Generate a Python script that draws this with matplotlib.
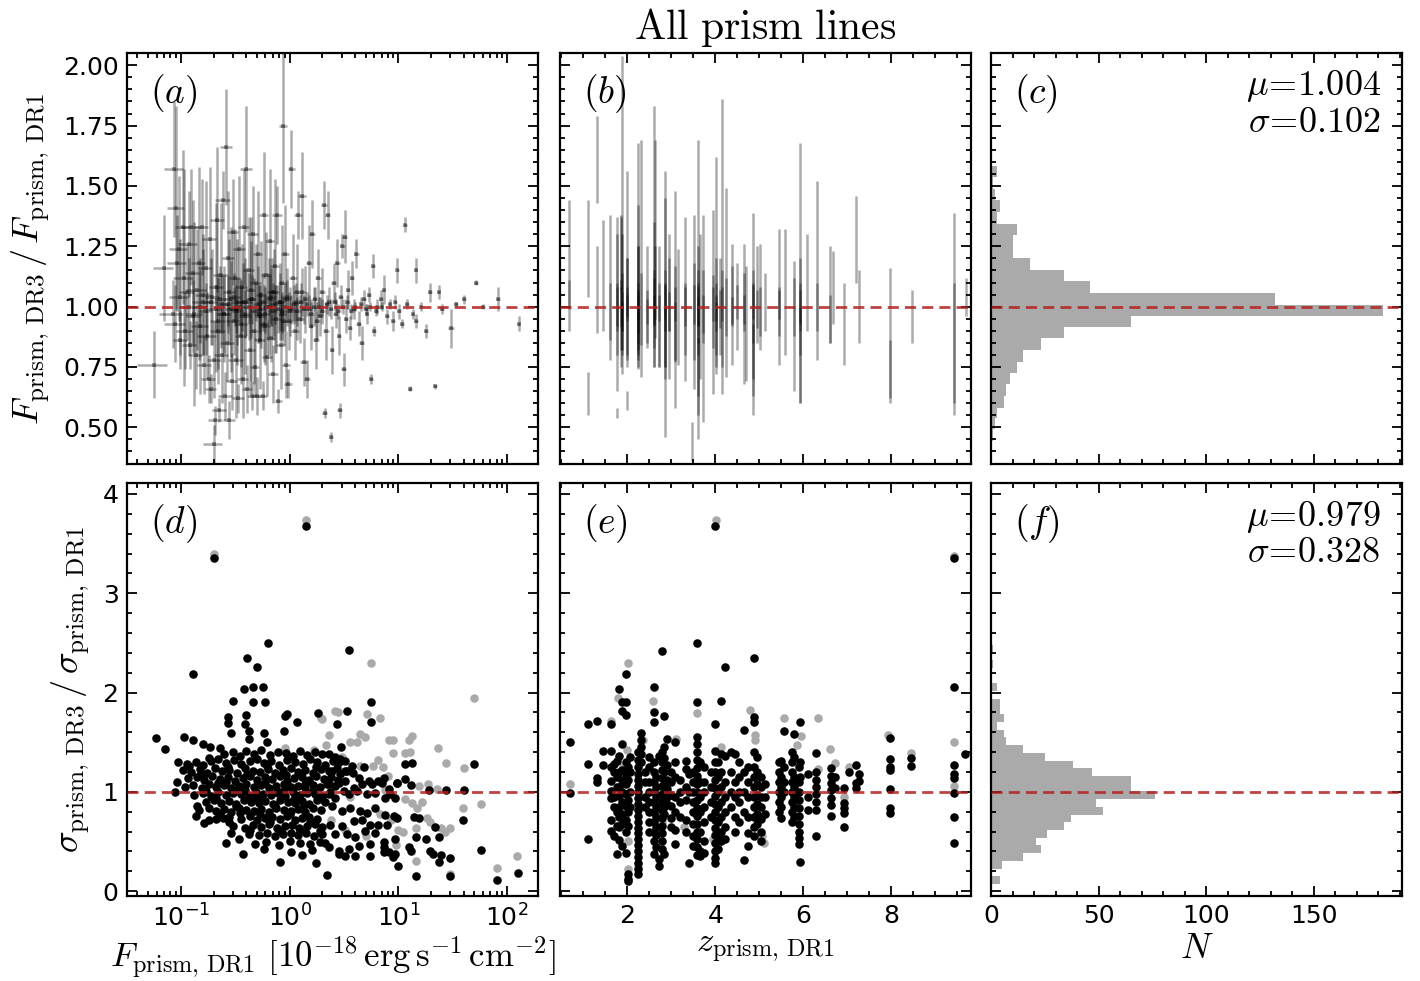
#!/usr/bin/env python3
import numpy as np
import matplotlib
matplotlib.use('Agg')
import matplotlib.pyplot as plt
from matplotlib.ticker import MultipleLocator, LogLocator, NullFormatter

# ---- panel (a): F_DR3/F_DR1 vs F_DR1 ----
flux_a = [0.057, 0.070, 0.084, 0.087, 0.089, 0.091, 0.093, 0.096, 0.098, 0.099,
          0.104, 0.107, 0.110, 0.114, 0.118, 0.121, 0.125, 0.129, 0.133, 0.137,
          0.141, 0.146, 0.150, 0.155, 0.160, 0.165, 0.170, 0.175, 0.180, 0.185,
          0.190, 0.195, 0.200, 0.204, 0.208, 0.212, 0.216, 0.220, 0.226, 0.232,
          0.238, 0.244, 0.250, 0.256, 0.262, 0.268, 0.274, 0.280, 0.287, 0.294,
          0.300, 0.307, 0.314, 0.322, 0.330, 0.338, 0.346, 0.355, 0.364, 0.373,
          0.382, 0.392, 0.400, 0.410, 0.420, 0.430, 0.440, 0.450, 0.460, 0.470,
          0.480, 0.490, 0.500, 0.510, 0.520, 0.535, 0.550, 0.565, 0.580, 0.595,
          0.610, 0.625, 0.640, 0.655, 0.670, 0.690, 0.710, 0.730, 0.750, 0.770,
          0.790, 0.810, 0.830, 0.850, 0.870, 0.890, 0.910, 0.930, 0.950, 0.970,
          1.00, 1.04, 1.08, 1.12, 1.16, 1.20, 1.25, 1.30, 1.35, 1.40,
          1.45, 1.50, 1.56, 1.62, 1.68, 1.75, 1.82, 1.90, 1.98, 2.06,
          2.10, 2.15, 2.25, 2.30, 2.40, 2.45, 2.55, 2.65, 2.75, 2.85,
          2.90, 2.95, 3.05, 3.15, 3.20, 3.30, 3.45, 3.60, 3.75, 3.90,
          4.10, 4.30, 4.60, 4.80, 5.10, 5.40, 5.60, 5.80, 6.00, 6.40,
          6.90, 7.30, 7.80, 8.30, 8.90, 9.40, 9.80, 10.2, 10.8, 11.5,
          12.0, 12.8, 13.5, 14.4, 14.6, 16.0, 18.0, 19.4, 21.8, 23.4,
          25.0, 30.6, 34.0, 40.0, 52.0, 60.0, 82.0, 127.0, 0.12, 0.13,
          0.15, 0.17, 0.19, 0.21, 0.23, 0.25, 0.27, 0.29, 0.31, 0.33,
          0.35, 0.37, 0.39, 0.42, 0.45, 0.48, 0.51, 0.54, 0.57, 0.60,
          0.63, 0.66, 0.70, 0.74, 0.78, 0.82, 0.86, 0.90, 0.95, 1.02,
          1.10, 1.18, 1.27, 1.36, 1.46, 1.58, 1.70, 1.85, 2.00, 2.20,
          2.40, 2.60, 2.80, 3.10, 3.40, 3.70, 4.00, 4.50, 5.00, 5.50,
          6.20, 7.00, 0.16, 0.22, 0.28, 0.36, 0.44, 0.58, 0.72, 0.98,
          1.30, 1.80, 0.24, 0.32, 0.40, 0.53, 0.68, 0.85, 1.15, 1.50]
ratio_a = [0.76, 1.16, 0.97, 1.57, 0.93, 1.41, 1.18, 1.24, 1.04, 0.86,
           1.33, 1.12, 0.90, 1.06, 1.26, 0.84, 1.33, 1.14, 0.97, 0.80,
           1.07, 1.18, 0.92, 1.33, 1.02, 0.76, 1.16, 0.88, 0.70, 1.28,
           0.66, 1.04, 0.43, 0.78, 0.53, 1.08, 1.36, 0.90, 0.57, 1.13,
           0.80, 1.44, 0.97, 0.63, 1.66, 0.85, 1.20, 0.53, 1.03, 0.69,
           1.31, 0.94, 1.12, 0.78, 1.02, 0.62, 1.24, 0.88, 1.08, 0.70,
           1.33, 0.96, 1.57, 0.66, 1.15, 0.82, 1.03, 0.63, 1.30, 0.90,
           0.75, 1.10, 0.63, 1.22, 0.97, 0.86, 1.05, 0.63, 1.38, 0.92,
           1.13, 0.79, 1.00, 1.27, 0.87, 1.06, 0.72, 1.17, 0.95, 1.38,
           0.61, 1.02, 0.84, 1.10, 1.75, 0.94, 1.22, 0.76, 1.04, 0.68,
           0.98, 1.57, 1.12, 0.90, 1.06, 1.38, 0.95, 1.46, 0.77, 1.03,
           0.70, 1.18, 0.92, 1.30, 1.00, 0.86, 1.12, 0.96, 1.06, 1.42,
           0.56, 0.90, 1.38, 1.02, 0.46, 0.82, 1.10, 0.97, 1.18, 0.88,
           0.57, 1.04, 1.25, 0.74, 1.29, 0.95, 1.07, 0.91, 1.12, 0.99,
           1.22, 0.93, 0.85, 1.03, 0.97, 1.05, 0.70, 1.17, 0.90, 1.00,
           1.03, 1.07, 0.96, 1.01, 0.94, 1.02, 1.15, 0.98, 0.93, 1.34,
           1.01, 0.66, 0.97, 1.15, 0.94, 1.00, 0.90, 1.06, 0.67, 1.06,
           0.99, 0.91, 1.01, 1.03, 1.10, 1.00, 1.03, 0.93, 1.00, 0.96,
           1.00, 0.98, 1.02, 0.99, 1.03, 0.97, 1.01, 0.99, 1.04, 0.98,
           1.00, 1.02, 0.97, 1.00, 1.03, 0.98, 1.01, 0.99, 1.02, 0.97,
           1.00, 1.03, 0.98, 1.01, 0.99, 1.02, 0.98, 1.00, 1.03, 0.99,
           1.01, 0.98, 1.02, 0.99, 1.01, 0.97, 1.03, 1.00, 0.98, 1.01,
           0.99, 1.02, 0.98, 1.00, 1.02, 0.98, 1.00, 1.01, 0.99, 1.00,
           0.98, 1.00, 1.05, 0.94, 1.06, 0.93, 1.07, 0.93, 1.06, 0.94,
           1.06, 0.94, 1.01, 0.99, 1.02, 0.96, 1.04, 0.97, 1.02, 0.99]
ratio_err_a = [0.14, 0.22, 0.14, 0.28, 0.16, 0.42, 0.20, 0.30, 0.24, 0.12,
               0.32, 0.45, 0.16, 0.20, 0.22, 0.10, 0.24, 0.30, 0.38, 0.14,
               0.25, 0.40, 0.28, 0.20, 0.22, 0.12, 0.36, 0.18, 0.10, 0.30,
               0.06, 0.20, 0.08, 0.16, 0.06, 0.35, 0.30, 0.22, 0.05, 0.30,
               0.20, 0.12, 0.20, 0.10, 0.24, 0.16, 0.28, 0.08, 0.30, 0.12,
               0.22, 0.14, 0.20, 0.24, 0.26, 0.06, 0.30, 0.20, 0.18, 0.16,
               0.24, 0.24, 0.26, 0.10, 0.22, 0.18, 0.34, 0.06, 0.20, 0.22,
               0.12, 0.16, 0.08, 0.26, 0.12, 0.20, 0.22, 0.06, 0.26, 0.16,
               0.18, 0.16, 0.20, 0.30, 0.10, 0.14, 0.12, 0.36, 0.14, 0.12,
               0.05, 0.16, 0.18, 0.24, 0.32, 0.10, 0.20, 0.14, 0.12, 0.06,
               0.10, 0.16, 0.18, 0.12, 0.20, 0.10, 0.10, 0.18, 0.10, 0.14,
               0.08, 0.16, 0.10, 0.14, 0.08, 0.12, 0.12, 0.08, 0.10, 0.10,
               0.02, 0.12, 0.10, 0.06, 0.02, 0.10, 0.08, 0.06, 0.10, 0.08,
               0.03, 0.05, 0.05, 0.07, 0.11, 0.06, 0.08, 0.05, 0.07, 0.04,
               0.06, 0.05, 0.07, 0.04, 0.04, 0.03, 0.02, 0.05, 0.02, 0.03,
               0.04, 0.06, 0.03, 0.02, 0.04, 0.03, 0.05, 0.03, 0.02, 0.03,
               0.02, 0.01, 0.02, 0.05, 0.03, 0.02, 0.03, 0.04, 0.01, 0.03,
               0.02, 0.08, 0.01, 0.02, 0.01, 0.01, 0.05, 0.03, 0.20, 0.15,
               0.15, 0.12, 0.18, 0.10, 0.14, 0.16, 0.12, 0.20, 0.10, 0.14,
               0.12, 0.16, 0.10, 0.14, 0.10, 0.12, 0.16, 0.10, 0.12, 0.08,
               0.14, 0.10, 0.12, 0.08, 0.10, 0.12, 0.08, 0.10, 0.08, 0.06,
               0.08, 0.06, 0.08, 0.06, 0.05, 0.06, 0.05, 0.04, 0.05, 0.04,
               0.04, 0.04, 0.03, 0.03, 0.03, 0.03, 0.02, 0.03, 0.02, 0.02,
               0.02, 0.02, 0.25, 0.20, 0.22, 0.18, 0.20, 0.16, 0.18, 0.12,
               0.10, 0.08, 0.12, 0.10, 0.14, 0.10, 0.12, 0.08, 0.08, 0.06]
flux_relerr_a = [0.30, 0.20, 0.25, 0.20, 0.22, 0.18, 0.20, 0.18, 0.20, 0.15,
                 0.15, 0.20, 0.18, 0.15, 0.20, 0.15, 0.20, 0.15, 0.18, 0.15,
                 0.20, 0.15, 0.18, 0.15, 0.20, 0.15, 0.15, 0.20, 0.15, 0.15,
                 0.12, 0.15, 0.20, 0.15, 0.15, 0.15, 0.15, 0.15, 0.15, 0.15,
                 0.15, 0.15, 0.15, 0.15, 0.12, 0.15, 0.12, 0.12, 0.15, 0.12,
                 0.12, 0.15, 0.12, 0.15, 0.12, 0.12, 0.12, 0.12, 0.12, 0.12,
                 0.12, 0.12, 0.12, 0.10, 0.12, 0.12, 0.10, 0.10, 0.12, 0.10,
                 0.10, 0.12, 0.10, 0.10, 0.10, 0.10, 0.10, 0.10, 0.10, 0.10,
                 0.10, 0.10, 0.10, 0.10, 0.10, 0.10, 0.10, 0.10, 0.10, 0.10,
                 0.08, 0.08, 0.10, 0.08, 0.08, 0.08, 0.08, 0.08, 0.08, 0.08,
                 0.08, 0.08, 0.08, 0.08, 0.08, 0.08, 0.08, 0.08, 0.08, 0.06,
                 0.06, 0.06, 0.06, 0.06, 0.06, 0.06, 0.06, 0.06, 0.06, 0.06,
                 0.05, 0.06, 0.05, 0.05, 0.05, 0.05, 0.05, 0.05, 0.05, 0.05,
                 0.05, 0.05, 0.05, 0.05, 0.05, 0.05, 0.05, 0.05, 0.05, 0.05,
                 0.05, 0.05, 0.05, 0.05, 0.04, 0.04, 0.04, 0.04, 0.04, 0.04,
                 0.04, 0.04, 0.04, 0.04, 0.04, 0.04, 0.04, 0.04, 0.04, 0.04,
                 0.04, 0.04, 0.04, 0.04, 0.04, 0.04, 0.04, 0.04, 0.04, 0.04,
                 0.04, 0.06, 0.04, 0.04, 0.04, 0.04, 0.04, 0.04, 0.18, 0.15,
                 0.15, 0.15, 0.15, 0.15, 0.12, 0.12, 0.12, 0.12, 0.12, 0.12,
                 0.12, 0.12, 0.12, 0.10, 0.10, 0.10, 0.10, 0.10, 0.10, 0.10,
                 0.10, 0.10, 0.10, 0.10, 0.08, 0.08, 0.08, 0.08, 0.08, 0.08,
                 0.08, 0.08, 0.06, 0.06, 0.06, 0.06, 0.06, 0.06, 0.05, 0.05,
                 0.05, 0.05, 0.05, 0.05, 0.05, 0.05, 0.05, 0.04, 0.04, 0.04,
                 0.04, 0.04, 0.15, 0.15, 0.12, 0.12, 0.10, 0.10, 0.10, 0.08,
                 0.08, 0.06, 0.12, 0.12, 0.12, 0.10, 0.10, 0.08, 0.08, 0.06]

# ---- panel (b): F_DR3/F_DR1 vs z_DR1, one list per redshift column ----
z_b_cols = [0.68, 1.11, 1.32, 1.45, 1.61, 1.77, 1.85, 1.89, 2.00, 2.24,
            2.31, 2.45, 2.61, 2.63, 2.72, 2.86, 2.95, 3.08, 3.15, 3.31,
            3.46, 3.52, 3.60, 3.65, 3.71, 3.94, 4.02, 4.10, 4.15, 4.24,
            4.39, 4.50, 4.65, 4.71, 4.85, 4.95, 5.02, 5.13, 5.44, 5.58,
            5.79, 5.92, 6.08, 6.32, 6.62, 6.68, 6.93, 7.20, 7.27, 7.98,
            8.48, 9.43, 9.70]
ratio_b_cols = [[1.17, 1.05], [1.24, 0.64], [1.61, 1.07], [1.13], [1.08, 0.98],
                [1.01, 0.56, 0.95, 1.10, 1.00], [1.10, 0.93, 1.22, 1.00],
                [1.38, 1.05, 0.92, 1.02, 0.98], [1.17, 0.61, 1.00, 0.90, 1.08, 1.01],
                [1.21, 1.00, 0.95, 1.05, 0.88, 1.12, 0.97, 1.01],
                [1.20, 0.99], [1.05, 0.93, 1.00], [1.33, 1.05, 0.95, 1.02, 0.99],
                [1.28, 1.10], [1.00, 0.90, 1.02], [1.01, 1.10, 0.95, 1.00, 0.85, 1.02],
                [1.00, 1.05, 0.98], [1.03, 0.97, 0.90, 1.01], [1.00], [1.03, 0.95, 1.00],
                [0.44], [1.02, 0.98, 1.01], [1.07, 0.85, 0.95, 1.05, 0.75, 1.00, 0.98],
                [1.00], [0.95, 1.00, 0.97], [1.02, 0.98, 1.01],
                [1.17, 1.00, 0.90, 1.02, 0.96], [1.00, 0.99], [1.25, 0.95, 1.01],
                [1.10, 1.00], [1.01, 1.05, 0.98], [1.00, 1.02], [0.97, 1.02, 0.99],
                [0.93], [0.97, 0.78, 1.00, 0.90, 1.02], [1.05, 0.99], [1.04, 0.98],
                [1.02], [1.04, 0.98, 1.01], [1.06], [0.92, 1.00], [1.14, 0.95, 1.05, 0.80, 1.00],
                [1.10], [1.15, 1.00], [1.05, 0.95], [1.08], [0.93], [1.28], [1.00],
                [0.88, 0.74], [0.96], [0.97, 0.85], [1.04]]
err_b_cols = [[0.27, 0.06], [0.20, 0.09], [0.18, 0.18], [0.23], [0.30, 0.12],
              [0.36, 0.02, 0.15, 0.20, 0.08], [0.28, 0.18, 0.15, 0.08],
              [0.66, 0.25, 0.10, 0.12, 0.08], [0.39, 0.04, 0.20, 0.15, 0.12, 0.07],
              [0.47, 0.25, 0.15, 0.20, 0.10, 0.30, 0.08, 0.06],
              [0.49, 0.15], [0.20, 0.10, 0.07], [0.50, 0.30, 0.20, 0.10, 0.06],
              [0.41, 0.15], [0.25, 0.15, 0.08], [0.55, 0.35, 0.20, 0.10, 0.15, 0.07],
              [0.30, 0.15, 0.08], [0.45, 0.20, 0.12, 0.07], [0.24], [0.34, 0.15, 0.08],
              [0.08], [0.36, 0.20, 0.08], [0.62, 0.30, 0.15, 0.20, 0.12, 0.08, 0.06],
              [0.30], [0.43, 0.15, 0.08], [0.38, 0.15, 0.07],
              [0.45, 0.20, 0.15, 0.08, 0.06], [0.20, 0.08], [0.61, 0.20, 0.07],
              [0.39, 0.12], [0.25, 0.12, 0.06], [0.18, 0.07], [0.29, 0.12, 0.06],
              [0.24], [0.42, 0.15, 0.15, 0.20, 0.07], [0.20, 0.08], [0.22, 0.10],
              [0.12], [0.28, 0.10, 0.06], [0.26], [0.27, 0.12], [0.54, 0.15, 0.15, 0.20, 0.07],
              [0.20], [0.37, 0.10], [0.20, 0.10], [0.15], [0.17], [0.18], [0.15],
              [0.28, 0.12], [0.11], [0.42, 0.25], [0.08]]

# ---- panel (c): histogram of F_DR3/F_DR1 ----
hist_c_edges = [0.445, 0.492, 0.537, 0.582, 0.631, 0.679, 0.725, 0.772, 0.820, 0.869,
                0.914, 0.963, 1.007, 1.057, 1.108, 1.152, 1.201, 1.249, 1.297, 1.343,
                1.391, 1.440, 1.488, 1.537, 1.581]
hist_c_counts = [1, 2, 3, 6, 7, 9, 12, 15, 23, 34, 65, 182, 132, 46, 34, 18, 10, 10,
                 12, 3, 4, 2, 1, 3]

# ---- panel (d): sigma_DR3/sigma_DR1 vs F_DR1 ----
flux_d = [0.20, 1.41, 0.63, 0.41, 0.50, 0.13, 0.38, 0.46, 0.57, 0.30, 0.46, 0.60, 0.27,
          0.27, 0.40, 0.39, 0.42, 0.42, 0.29, 0.58, 0.62, 0.94, 0.91, 0.89, 1.16, 1.82,
          3.5, 5.6, 3.4, 5.6, 2.7, 2.95, 0.059, 0.072, 0.106, 0.130, 0.160, 0.187, 0.229,
          4.8, 11.4, 13.2, 50, 9.8, 11.5, 13.0, 19.0, 27.5, 40, 39, 58,
          21.9, 23.4, 18.0, 14.5, 13.8, 15.5, 19.5, 21.0, 24.5, 23.5, 29.5, 14.4,
          30, 81, 126, 9.9, 12.4, 13.1, 9.3, 8.9, 7.3, 5.5, 2.23,
          0.25, 0.30, 0.35, 0.40, 0.47, 0.55, 0.66, 0.78, 0.92, 1.08, 1.25, 1.45, 1.7, 2.0,
          0.095, 0.113, 0.137, 0.16, 0.19, 0.22, 0.26, 0.31, 0.36, 0.43, 0.50,
          0.58, 0.68, 0.80, 0.95, 1.12, 1.32, 1.55, 1.8, 2.1, 2.5, 2.9,
          0.105, 0.125, 0.15, 0.175, 0.205, 0.24, 0.28, 0.33, 0.39, 0.46, 0.54, 0.63,
          0.74, 0.87, 1.02, 1.2, 1.4, 1.65, 1.95, 2.3, 2.7, 3.2, 3.8,
          0.093, 0.117, 0.14, 0.165, 0.195, 0.23, 0.27, 0.315, 0.37, 0.43, 0.5,
          0.59, 0.69, 0.81, 0.95, 1.1, 1.3, 1.5, 1.75, 2.05, 2.4, 2.8,
          0.11, 0.13, 0.155, 0.18, 0.21, 0.25, 0.29, 0.34, 0.40, 0.47, 0.55,
          0.64, 0.75, 0.88, 1.03, 1.2, 1.4, 1.63, 1.9, 2.2, 2.6,
          0.089, 0.133, 0.16, 0.19, 0.22, 0.26, 0.30, 0.36, 0.42, 0.49,
          0.57, 0.67, 0.78, 0.91, 1.07, 1.25, 1.46, 1.7, 2.0, 2.35,
          0.17, 0.20, 0.235, 0.275, 0.32, 0.38, 0.44, 0.52, 0.6, 0.7, 0.82, 0.96, 1.12, 1.3, 1.52, 1.78, 2.1,
          0.147, 0.18, 0.21, 0.25, 0.29, 0.34, 0.40, 0.47, 0.55, 0.64, 0.75, 0.88, 1.03, 1.2, 1.4, 1.65, 1.95,
          0.139, 0.183, 0.212, 0.244, 0.28, 0.36, 0.43, 0.50, 0.59, 0.69, 0.81, 0.95, 1.11, 1.3, 1.52, 1.8,
          0.163, 0.30, 0.39, 0.46, 0.55, 0.64, 0.76, 0.9, 1.05, 1.23, 1.45, 1.7, 2.0,
          0.29, 0.42, 0.52, 0.62, 0.74, 0.87, 1.02, 1.2, 1.42, 1.68, 2.0,
          0.26, 0.34, 0.48, 0.61, 0.80, 1.0, 1.25, 1.55, 1.9,
          0.37, 0.58, 0.81, 1.02, 1.3, 1.6, 1.75, 2.1,
          2.29, 2.63, 2.82, 3.25, 3.74,
          2.45, 2.93, 3.37, 4.31, 5.32, 6.56, 7.30,
          2.29, 2.82, 3.25, 3.88, 4.62, 5.71, 7.05, 8.11, 9.67,
          2.29, 2.63, 3.14, 3.49, 4.16, 5.14, 6.12, 7.56, 8.40, 9.34,
          2.45, 3.03, 3.61, 4.47, 5.14, 6.12, 7.56, 9.02, 9.67,
          2.35, 3.03, 3.88, 4.62, 5.51, 6.56, 7.83,
          2.63, 3.37, 4.02, 4.96, 6.12, 7.30, 9.34,
          2.29, 2.82, 3.49, 4.31, 5.51, 7.30, 8.11,
          2.82, 3.25, 4.02,
          0.12, 0.15, 0.18, 0.22, 0.27, 0.33, 0.41, 0.51, 0.62, 0.77, 0.93, 1.15, 1.4, 1.75,
          0.14, 0.17, 0.21, 0.26, 0.32, 0.39, 0.48, 0.59, 0.73, 0.89, 1.1, 1.35, 1.65, 2.0,
          0.23, 0.28, 0.35, 0.43, 0.53, 0.66, 0.82, 1.0, 1.25, 1.55, 1.9]
sig_d = [3.35, 3.68, 2.50, 2.35, 2.26, 2.19, 2.04, 2.06, 2.06, 1.91, 1.90, 1.90, 1.75,
         1.69, 1.77, 1.68, 1.61, 1.53, 1.59, 1.59, 1.50, 1.78, 1.76, 1.61, 1.70, 1.79,
         2.43, 1.90, 1.81, 1.70, 1.68, 1.45, 1.54, 1.43, 1.55, 1.52, 1.48, 1.45, 1.44,
         1.25, 1.28, 1.29, 1.28, 1.09, 1.13, 1.07, 1.02, 1.02, 1.02, 0.72, 0.41,
         0.65, 0.54, 0.52, 0.54, 0.75, 0.74, 0.40, 0.37, 0.36, 0.29, 0.33, 0.15,
         0.15, 0.11, 0.18, 0.25, 0.44, 0.40, 0.37, 0.34, 0.44, 0.35, 0.16,
         1.38, 1.40, 1.36, 1.41, 1.38, 1.42, 1.37, 1.40, 1.39, 1.36, 1.41, 1.37, 1.40, 1.38,
         1.30, 1.28, 1.30, 1.27, 1.31, 1.33, 1.29, 1.32, 1.28, 1.31, 1.33,
         1.29, 1.31, 1.27, 1.32, 1.30, 1.28, 1.33, 1.30, 1.27, 1.31, 1.33,
         1.22, 1.20, 1.23, 1.19, 1.24, 1.21, 1.22, 1.19, 1.24, 1.21, 1.20, 1.23,
         1.19, 1.22, 1.24, 1.20, 1.22, 1.19, 1.23, 1.21, 1.24, 1.21, 1.19,
         1.10, 1.14, 1.15, 1.12, 1.16, 1.13, 1.15, 1.11, 1.14, 1.16, 1.12,
         1.15, 1.13, 1.16, 1.11, 1.14, 1.15, 1.12, 1.16, 1.13, 1.15, 1.12,
         1.05, 1.07, 1.04, 1.08, 1.05, 1.07, 1.04, 1.06, 1.08, 1.05, 1.07,
         1.04, 1.06, 1.08, 1.05, 1.06, 1.04, 1.07, 1.05, 1.08, 1.06,
         1.00, 0.97, 0.99, 0.96, 1.00, 0.97, 0.99, 0.98, 0.96, 1.00,
         0.98, 0.97, 0.99, 0.96, 1.00, 0.97, 0.99, 0.98, 0.96, 1.00,
         0.90, 0.92, 0.89, 0.91, 0.88, 0.92, 0.90, 0.89, 0.91, 0.88, 0.92, 0.90, 0.89, 0.91, 0.88, 0.92, 0.90,
         0.82, 0.84, 0.81, 0.83, 0.80, 0.84, 0.82, 0.81, 0.83, 0.80, 0.84, 0.82, 0.81, 0.83, 0.80, 0.84, 0.82,
         0.76, 0.72, 0.73, 0.74, 0.75, 0.73, 0.76, 0.72, 0.74, 0.75, 0.73, 0.76, 0.72, 0.74, 0.75, 0.73,
         0.69, 0.66, 0.64, 0.67, 0.65, 0.68, 0.64, 0.66, 0.67, 0.64, 0.66, 0.68, 0.65,
         0.59, 0.57, 0.56, 0.58, 0.55, 0.57, 0.59, 0.56, 0.58, 0.55, 0.57,
         0.48, 0.52, 0.47, 0.49, 0.46, 0.50, 0.48, 0.47, 0.49,
         0.37, 0.42, 0.29, 0.39, 0.36, 0.41, 0.28, 0.48,
         1.38, 1.35, 1.30, 1.31, 1.26,
         1.21, 1.18, 1.21, 1.14, 1.11, 1.11, 1.14,
         1.08, 1.09, 1.11, 1.04, 1.08, 1.08, 1.09, 1.03, 1.09,
         0.98, 0.94, 1.01, 0.98, 1.01, 0.98, 0.99, 0.94, 0.98, 0.94,
         0.86, 0.81, 0.84, 0.81, 0.79, 0.84, 0.77, 0.76, 0.74,
         0.67, 0.66, 0.71, 0.72, 0.67, 0.67, 0.67,
         0.57, 0.57, 0.54, 0.61, 0.59, 0.49, 0.52,
         0.44, 0.40, 0.42, 0.45, 0.47, 0.39, 0.39,
         0.37, 0.35, 0.35,
         1.26, 1.17, 1.34, 1.09, 1.25, 1.02, 1.18, 0.93, 1.26, 1.01, 1.17, 0.94, 1.08, 1.25,
         0.86, 1.01, 0.94, 1.10, 0.86, 1.02, 0.94, 1.09, 0.86, 1.02, 0.93, 0.87, 1.01, 0.93,
         0.78, 0.70, 0.79, 0.62, 0.78, 0.70, 0.61, 0.78, 0.62, 0.70, 0.61]
# grey points (drawn underneath)
flux_d_grey = [0.20, 1.41, 5.6, 50, 2.8, 5.1, 6.8, 4.4, 3.6, 4.2, 8.2,
               8.9, 13.2, 12.6, 23.3, 9.0, 11.4, 12.8, 27.5, 40, 4.4, 5.8,
               7.2, 8.1, 15.6, 18.7, 22.6, 11.5, 13.4, 14.7, 39, 58, 18.5,
               19.7, 24.8, 29.5, 26.8, 14.4, 10, 11, 14.4, 30, 80, 122,
               1.95, 2.3, 2.15, 1.66, 0.90, 2.6, 2.0, 4.9, 3.0, 6.5, 7.5,
               3.2, 2.4, 5.0, 6.8, 9.5, 16.5, 2.7, 3.6, 8.5]
sig_d_grey = [3.40, 3.74, 2.30, 1.94, 1.80, 1.78, 1.74, 1.58, 1.50, 1.50, 1.52,
              1.52, 1.56, 1.52, 1.44, 1.39, 1.39, 1.40, 1.29, 1.24, 1.26, 1.26,
              1.25, 1.16, 1.06, 1.08, 1.03, 0.93, 0.89, 0.84, 0.84, 0.88, 0.74,
              0.70, 0.64, 0.64, 0.60, 0.64, 0.62, 0.60, 0.30, 0.17, 0.23, 0.35,
              1.74, 1.57, 1.47, 1.42, 1.44, 1.81, 1.73, 1.55, 1.35, 1.32, 1.02,
              0.62, 0.72, 0.55, 0.78, 0.46, 0.90, 1.10, 0.95, 0.72]

# ---- panel (e): sigma_DR3/sigma_DR1 vs z_DR1, one list per redshift column ----
z_e_cols = [0.69, 1.11, 1.30, 1.45, 1.62, 1.70, 1.77, 1.82, 1.88, 1.96,
            2.01, 2.06, 2.24, 2.31, 2.40, 2.50, 2.60, 2.66, 2.71, 2.78,
            2.84, 2.91, 3.00, 3.08, 3.20, 3.33, 3.40, 3.50, 3.59, 3.65,
            3.75, 3.90, 4.00, 4.06, 4.14, 4.23, 4.35, 4.45, 4.55, 4.65,
            4.75, 4.88, 4.95, 5.05, 5.13, 5.45, 5.50, 5.56, 5.75, 5.80,
            5.90, 5.93, 6.10, 6.29, 6.63, 6.72, 6.93, 7.04, 7.19, 7.27,
            7.98, 8.46, 9.43, 9.68]
sig_e_cols = [[1.50, 0.99],
              [1.68, 1.28, 0.52],
              [1.14, 1.10, 1.71],
              [1.41, 1.27],
              [1.68, 1.41, 1.11, 1.01, 0.94, 0.72, 0.61, 1.25],
              [1.28, 1.20, 0.95, 0.55, 0.85],
              [0.37, 0.80, 1.05, 1.31, 1.15, 0.66],
              [2.04, 1.36, 1.20, 1.05, 0.96, 0.85, 0.75, 0.65, 0.51],
              [1.90, 1.81, 1.48, 1.22, 1.12, 1.00, 0.90, 0.78, 0.68, 0.45],
              [2.19, 1.90, 1.77, 1.30, 1.18, 1.08, 0.98, 0.86, 0.72, 0.60, 0.38],
              [1.25, 1.12, 0.92, 0.80, 0.66, 0.17, 0.12, 0.10],
              [1.35, 1.20, 1.00, 0.85],
              [1.40, 1.32, 1.25, 1.18, 1.12, 1.06, 1.00, 0.94, 0.88, 0.82, 0.76,
               0.70, 0.64, 0.58, 0.52, 0.46, 0.40, 0.34, 0.28, 0.22, 0.17],
              [1.52, 1.45, 1.38, 1.30, 1.59],
              [1.20, 1.10, 0.95, 0.85],
              [1.35, 1.25, 1.10, 1.00, 0.90, 0.80, 0.70, 0.60],
              [2.06, 1.80, 1.70, 1.30, 1.20, 1.10, 1.00, 0.90, 0.80, 0.70, 0.60, 0.50, 0.37],
              [1.15, 1.05, 0.95, 0.85, 0.75, 0.65, 0.56, 0.44],
              [1.36, 0.32, 0.25],
              [2.42, 1.40, 1.30, 1.22, 1.14, 1.06, 0.98, 0.90, 0.82, 0.74, 0.66, 0.58, 0.50, 0.42],
              [1.76, 1.45, 1.34, 1.20, 1.08, 1.00, 0.92, 0.85, 0.78, 0.37],
              [1.53, 1.27, 1.12, 1.03, 0.95, 0.88],
              [1.20, 1.10, 0.97, 0.86, 0.74, 0.65],
              [1.50, 1.30, 1.15, 0.95, 0.80, 0.62, 0.47],
              [1.12, 1.00, 0.90, 0.75],
              [1.31, 1.23, 1.05, 0.92, 0.72, 0.60],
              [1.18, 1.00, 0.28],
              [1.20, 1.10, 1.00, 0.90, 0.80, 0.68, 0.55, 0.45],
              [2.50, 1.90, 1.55, 1.48, 1.40, 1.32, 1.24, 1.16, 1.08, 1.00, 0.92,
               0.84, 0.76, 0.68, 0.60, 0.52, 0.44, 0.36],
              [1.30, 1.10, 0.95, 0.80, 0.60, 0.40, 0.35],
              [1.25, 1.10, 1.00, 0.85, 0.70, 0.50, 0.38],
              [1.20, 1.05, 0.90, 0.75],
              [3.68, 1.68, 1.41, 1.30, 1.20, 1.12, 1.04, 0.96, 0.88, 0.80, 0.72,
               0.64, 0.56, 0.48, 0.40, 0.33, 0.28],
              [1.30, 1.15, 1.00, 0.85, 0.70, 0.55, 0.42],
              [1.91, 1.38, 1.20, 1.05, 0.90, 0.75, 0.60, 0.50],
              [2.26, 1.36, 1.10, 0.95, 0.80, 0.65, 0.52],
              [1.40, 1.20, 1.00, 0.85],
              [1.38, 1.10, 0.95, 0.75, 0.60],
              [1.30, 1.15, 1.00, 0.90, 0.70],
              [1.62, 1.20, 1.00, 0.80, 0.31],
              [1.25, 1.10, 0.95, 0.75, 0.58, 0.45],
              [2.35, 1.75, 1.70, 1.40, 1.25, 1.15, 1.05, 0.95, 0.85, 0.75, 0.65, 0.55],
              [1.35, 1.20, 1.08, 0.97, 0.88, 0.78, 0.68],
              [1.15, 1.05, 0.95, 0.85, 0.73, 0.60, 0.50],
              [1.08, 0.95, 0.78],
              [1.30, 1.20, 1.10, 1.00, 0.90, 0.80],
              [1.31, 1.15, 1.05, 0.95, 0.85, 0.74],
              [1.61, 1.25, 1.10, 1.00],
              [1.40, 1.30, 1.20, 1.10, 1.00, 0.90, 0.80, 0.70],
              [1.58, 1.35, 1.15, 1.05, 0.95, 0.85, 0.75],
              [1.25, 1.10, 1.00, 0.92, 0.84, 0.76, 0.68, 0.60, 0.53, 0.47],
              [1.70, 1.30, 1.15, 0.29],
              [1.18, 0.95, 0.82],
              [1.39, 1.20, 1.12, 1.05, 0.98, 0.90, 0.82, 0.55],
              [1.24, 1.16, 1.09, 1.02, 0.94, 0.87, 0.76],
              [1.15, 1.04],
              [1.04, 0.89, 0.84, 0.79, 0.65],
              [1.20],
              [1.27, 1.09, 1.04],
              [1.18, 1.11],
              [1.54, 1.33, 1.25, 1.22, 1.03, 0.84, 0.79],
              [1.34, 1.26],
              [3.35, 2.06, 1.27, 1.18, 1.14, 0.99, 0.75, 0.48],
              [1.38]]
z_e_grey = [0.69, 1.62, 1.78, 2.02, 2.01, 2.01, 2.59, 2.35, 3.10, 3.58,
            4.02, 4.14, 3.95, 4.79, 4.90, 5.07, 5.57, 5.96, 5.85, 6.33,
            6.34, 6.60, 6.72, 6.93, 7.04, 7.93, 8.46, 9.42, 9.42, 9.42,
            2.24, 2.62, 2.00, 1.90, 3.60, 4.05, 5.10, 4.90, 2.80, 3.30]
sig_e_grey = [1.08, 1.71, 1.94, 2.30, 0.50, 0.22, 1.91, 1.52, 1.53, 1.79,
              3.74, 1.45, 0.52, 1.82, 1.57, 0.55, 1.74, 1.56, 1.47, 1.74,
              1.23, 1.43, 1.29, 0.95, 1.25, 1.57, 1.39, 3.38, 1.50, 1.06,
              0.24, 0.78, 1.42, 1.25, 0.58, 0.45, 0.48, 1.52, 0.70, 0.65]

# ---- panel (f): histogram of sigma_DR3/sigma_DR1 ----
hist_f_edges = [0.072, 0.150, 0.227, 0.305, 0.383, 0.461, 0.538, 0.616, 0.694, 0.771,
                0.849, 0.927, 1.004, 1.082, 1.160, 1.238, 1.315, 1.393, 1.471, 1.548,
                1.626, 1.704, 1.781, 1.859, 1.937, 2.015, 2.092, 2.170, 2.248, 2.325,
                2.403, 2.481, 2.558]
hist_f_counts = [4, 0, 5, 15, 23, 21, 26, 34, 37, 52, 49, 76, 65, 65, 47, 38, 25, 15,
                 7, 6, 3, 6, 4, 4, 0, 3, 0, 0, 1, 0, 1, 0]

stats_c = (1.004, 0.102)
stats_f = (0.979, 0.328)


def main():
    plt.rcParams['mathtext.fontset'] = 'cm'
    plt.rcParams['font.family'] = 'DejaVu Sans'
    plt.rcParams['axes.linewidth'] = 1.6
    plt.rcParams['axes.unicode_minus'] = False

    fig = plt.figure(figsize=(14.2, 9.81), dpi=100)
    w = 0.2895
    lefts = [0.0894, 0.3944, 0.6979]
    axA = fig.add_axes([lefts[0], 0.527, w, 0.419])
    axB = fig.add_axes([lefts[1], 0.527, w, 0.419])
    axC = fig.add_axes([lefts[2], 0.527, w, 0.419])
    axD = fig.add_axes([lefts[0], 0.0866, w, 0.421])
    axE = fig.add_axes([lefts[1], 0.0866, w, 0.421])
    axF = fig.add_axes([lefts[2], 0.0866, w, 0.421])
    axes = [axA, axB, axC, axD, axE, axF]

    grey = '#aaaaaa'
    ebkw = dict(color='k', alpha=0.33, elinewidth=1.8, capsize=0, zorder=2)

    # (a)
    fa = np.array(flux_a)
    axA.errorbar(fa, ratio_a, xerr=fa * np.array(flux_relerr_a), yerr=ratio_err_a,
                 fmt='s', ms=2.5, mew=0, **ebkw)
    # (b)
    zb = np.concatenate([[z] * len(r) for z, r in zip(z_b_cols, ratio_b_cols)])
    rb = np.concatenate(ratio_b_cols)
    eb = np.concatenate(err_b_cols)
    axB.errorbar(zb, rb, yerr=eb, fmt='none', **ebkw)
    # (c)
    ec = np.array(hist_c_edges)
    axC.hist(0.5 * (ec[1:] + ec[:-1]), bins=ec, weights=hist_c_counts,
             orientation='horizontal', histtype='stepfilled', color=grey, lw=0)
    # (d)
    axD.scatter(flux_d_grey, sig_d_grey, s=38, c=grey, lw=0, zorder=2)
    axD.scatter(flux_d, sig_d, s=38, c='k', lw=0, zorder=3)
    # (e)
    ze = np.concatenate([[z] * len(s) for z, s in zip(z_e_cols, sig_e_cols)])
    se = np.concatenate(sig_e_cols)
    axE.scatter(z_e_grey, sig_e_grey, s=38, c=grey, lw=0, zorder=2)
    axE.scatter(ze, se, s=38, c='k', lw=0, zorder=3)
    # (f)
    ef = np.array(hist_f_edges)
    axF.hist(0.5 * (ef[1:] + ef[:-1]), bins=ef, weights=hist_f_counts,
             orientation='horizontal', histtype='stepfilled', color=grey, lw=0)

    for ax in axes:
        ax.axhline(1.0, color='firebrick', ls=(0, (4, 2.2)), lw=2, alpha=0.85, zorder=5)
        ax.tick_params(which='both', direction='in', top=True, right=True,
                       labelsize=18, width=1.3, pad=6)
        ax.tick_params(which='major', length=7)
        ax.tick_params(which='minor', length=3.5)

    for ax in (axA, axD):
        ax.set_xscale('log')
        ax.set_xlim(0.032, 192)
        ax.xaxis.set_major_locator(LogLocator(base=10, numticks=10))
        ax.xaxis.set_minor_locator(LogLocator(base=10, subs=np.arange(2, 10), numticks=20))
        ax.xaxis.set_minor_formatter(NullFormatter())
    for ax in (axB, axE):
        ax.set_xlim(0.47, 9.82)
        ax.xaxis.set_major_locator(MultipleLocator(2))
        ax.xaxis.set_minor_locator(MultipleLocator(0.5))
    for ax in (axC, axF):
        ax.set_xlim(0, 191)
        ax.xaxis.set_major_locator(MultipleLocator(50))
        ax.xaxis.set_minor_locator(MultipleLocator(10))
    for ax in (axA, axB, axC):
        ax.set_ylim(0.348, 2.051)
        ax.yaxis.set_major_locator(MultipleLocator(0.25))
        ax.yaxis.set_minor_locator(MultipleLocator(0.05))
        ax.tick_params(labelbottom=False)
    for ax in (axD, axE, axF):
        ax.set_ylim(-0.05, 4.11)
        ax.yaxis.set_major_locator(MultipleLocator(1))
        ax.yaxis.set_minor_locator(MultipleLocator(0.2))
    for ax in (axB, axC, axE, axF):
        ax.tick_params(labelleft=False)

    # labels
    axA.set_ylabel(r'$F_{\rm prism,\,DR3}\,/\,F_{\rm prism,\,DR1}$', fontsize=26, labelpad=8)
    axD.set_ylabel(r'$\sigma_{\rm prism,\,DR3}\,/\,\sigma_{\rm prism,\,DR1}$', fontsize=26, labelpad=8)
    axD.set_xlabel(r'$F_{\rm prism,\,DR1}\ [10^{-18}\,{\rm erg\,s^{-1}\,cm^{-2}}]$', fontsize=25, labelpad=2)
    axE.set_xlabel(r'$z_{\rm prism,\,DR1}$', fontsize=25, labelpad=2)
    axF.set_xlabel(r'$N$', fontsize=26, labelpad=2)
    axB.set_title(r'$\rm All\ prism\ lines$', fontsize=30, pad=10)

    for ax, lab in zip(axes, 'abcdef'):
        ax.text(0.055, 0.878, '$(%s)$' % lab, transform=ax.transAxes,
                fontsize=27, va='baseline', ha='left')
    for ax, (mu, sd) in ((axC, stats_c), (axF, stats_f)):
        ax.text(0.948, 0.897, r'$\mu\!=\!%.3f$' % mu, transform=ax.transAxes,
                fontsize=26, va='baseline', ha='right')
        ax.text(0.948, 0.808, r'$\sigma\!=\!%.3f$' % sd, transform=ax.transAxes,
                fontsize=26, va='baseline', ha='right')

    fig.savefig('out.png', dpi=100)


if __name__ == "__main__":
    main()
